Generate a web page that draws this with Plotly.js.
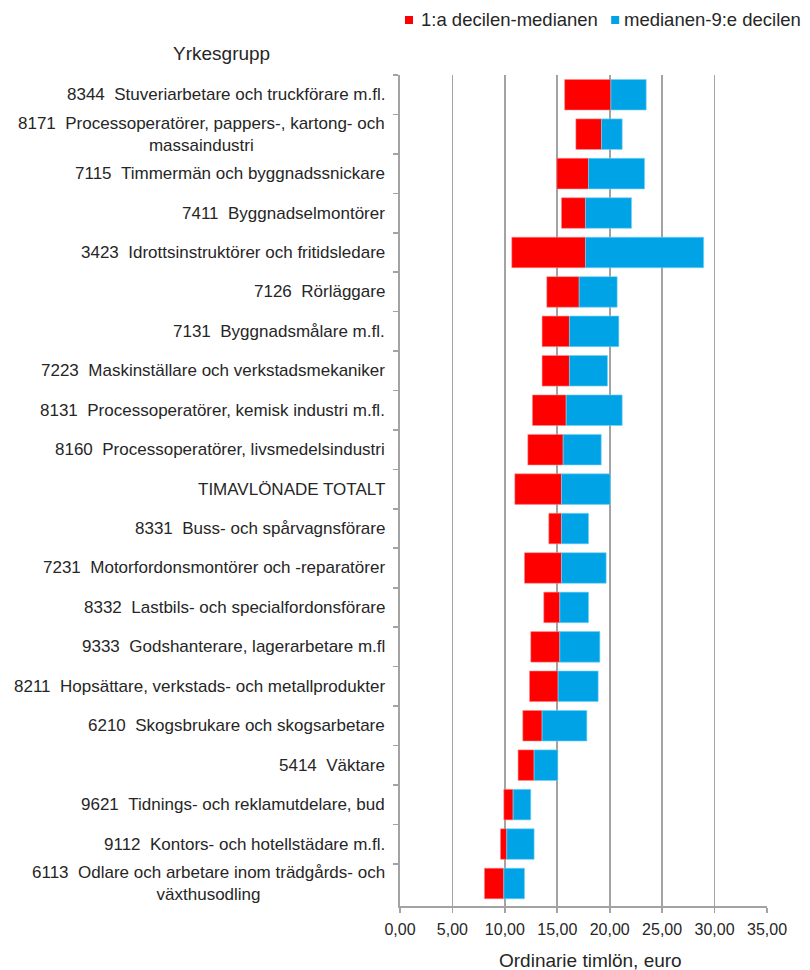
<!DOCTYPE html>
<html>
<head>
<meta charset="utf-8">
<script src="https://cdn.plot.ly/plotly-3.0.1.min.js"></script>
<style>
html,body{margin:0;padding:0;background:#fff;}
#chart{width:810px;height:970px;}
</style>
</head>
<body>
<div id="chart"></div>
<script>
// ---- data ----
var codes = ['8344','8171','7115','7411','3423','7126','7131','7223','8131','8160','',
             '8331','7231','8332','9333','8211','6210','5414','9621','9112','6113'];
var names = [
  'Stuveriarbetare och truckförare m.fl.',
  'Processoperatörer, pappers-, kartong- och<br>massaindustri',
  'Timmermän och byggnadssnickare',
  'Byggnadselmontörer',
  'Idrottsinstruktörer och fritidsledare',
  'Rörläggare',
  'Byggnadsmålare m.fl.',
  'Maskinställare och verkstadsmekaniker',
  'Processoperatörer, kemisk industri m.fl.',
  'Processoperatörer, livsmedelsindustri',
  'TIMAVLÖNADE TOTALT',
  'Buss- och spårvagnsförare',
  'Motorfordonsmontörer och -reparatörer',
  'Lastbils- och specialfordonsförare',
  'Godshanterare, lagerarbetare m.fl',
  'Hopsättare, verkstads- och metallprodukter',
  'Skogsbrukare och skogsarbetare',
  'Väktare',
  'Tidnings- och reklamutdelare, bud',
  'Kontors- och hotellstädare m.fl.',
  'Odlare och arbetare inom trädgårds- och<br>växthusodling'
];
var decile1 = [15.70,16.77,14.96,15.40,10.66,14.00,13.55,13.55,12.63,12.19,10.95,
               14.19,11.87,13.71,12.47,12.35,11.71,11.26,9.90,9.58,8.05];
var median  = [20.11,19.22,17.98,17.69,17.69,17.09,16.16,16.16,15.85,15.56,15.40,
               15.40,15.40,15.24,15.24,15.08,13.55,12.79,10.79,10.18,9.90];
var decile9 = [23.48,21.19,23.32,22.08,28.96,20.71,20.87,19.79,21.19,19.19,20.05,
               17.98,19.66,17.98,19.06,18.90,17.82,15.05,12.47,12.79,11.87];
var seriesNames = ['1:a decilen-medianen', 'medianen-9:e decilen'];
var axisTitle = 'Ordinarie timlön, euro';
var groupTitle = 'Yrkesgrupp';

// ---- build ----
var labels = codes.map(function(c, i){
  return c ? c + '\u00a0\u00a0' + names[i] : names[i];
});
var cats = labels.map(function(l){ return l.replace('<br>', ' '); });

var redCol = '#FF0000', blueCol = '#00A3E6';

var traceLow = {
  type: 'bar', orientation: 'h', name: seriesNames[0],
  y: cats,
  base: decile1,
  x: median.map(function(m, i){ return m - decile1[i]; }),
  marker: {color: redCol, line: {color: 'rgba(255,140,140,0.7)', width: 0.8}},
  hoverinfo: 'skip', showlegend: false
};
var traceHigh = {
  type: 'bar', orientation: 'h', name: seriesNames[1],
  y: cats,
  base: median,
  x: decile9.map(function(d, i){ return d - median[i]; }),
  marker: {color: blueCol, line: {color: 'rgba(120,210,245,0.8)', width: 0.8}},
  hoverinfo: 'skip', showlegend: false
};

// plot area in pixels
var L = 400, R = 766.7, T = 75, B = 906;
var W = 810, H = 970;
function px2x(px){ return (px - L) / (R - L); }
function px2y(py){ return (B - py) / (B - T); }

var font = 'Liberation Sans, Arial, sans-serif';
var txtCol = '#262626';
var gridCol = '#A3A3A3';

var annotations = labels.map(function(lbl, i){
  return {
    xref: 'x', yref: 'y', x: 0, y: cats[i],
    xanchor: 'right', yanchor: 'middle', xshift: -13,
    text: lbl, showarrow: false, align: 'center',
    font: {family: font, size: 17, color: txtCol}
  };
});
annotations.push({
  xref: 'paper', yref: 'paper', x: px2x(222), y: px2y(53),
  xanchor: 'center', yanchor: 'middle', text: groupTitle, showarrow: false,
  font: {family: font, size: 19, color: txtCol}
});
// axis title placed under the axis, centred like the reference
annotations.push({
  xref: 'paper', yref: 'paper', x: px2x(590), y: px2y(960),
  xanchor: 'center', yanchor: 'middle', text: axisTitle, showarrow: false,
  font: {family: font, size: 19, color: txtCol}
});
// manual legend
var legX = [405, 611], legTextX = [419, 622];
var shapes = [];
[redCol, blueCol].forEach(function(col, k){
  shapes.push({
    type: 'rect', xref: 'paper', yref: 'paper',
    x0: px2x(legX[k]), x1: px2x(legX[k] + 8),
    y0: px2y(24), y1: px2y(16),
    fillcolor: col, line: {width: 0}
  });
  annotations.push({
    xref: 'paper', yref: 'paper', x: px2x(legTextX[k]), y: px2y(19.5),
    xanchor: 'left', yanchor: 'middle', text: seriesNames[k], showarrow: false,
    font: {family: font, size: 18.5, color: txtCol}
  });
});

var layout = {
  width: W, height: H,
  margin: {l: L, r: W - R, t: T, b: H - B, pad: 0},
  paper_bgcolor: '#ffffff', plot_bgcolor: '#ffffff',
  barmode: 'overlay', bargap: 0.225,
  separators: ', ',
  showlegend: false,
  font: {family: font, color: txtCol},
  xaxis: {
    range: [0, 35], dtick: 5, tick0: 0, tickformat: '.2f',
    showgrid: true, gridcolor: gridCol, gridwidth: 1.6,
    zeroline: false,
    showline: true, linecolor: gridCol, linewidth: 1.6,
    ticks: 'outside', ticklen: 5, tickcolor: gridCol, tickwidth: 1.6,
    ticklabelstandoff: 3,
    tickfont: {family: font, size: 16, color: txtCol},
    fixedrange: true, automargin: false
  },
  yaxis: {
    type: 'category', autorange: 'reversed',
    showticklabels: false,
    showgrid: false, zeroline: false,
    showline: true, linecolor: gridCol, linewidth: 1.6,
    ticks: 'outside', tickson: 'boundaries', ticklen: 5, tickcolor: gridCol, tickwidth: 1.6,
    fixedrange: true, automargin: false
  },
  annotations: annotations,
  shapes: shapes
};

Plotly.newPlot('chart', [traceLow, traceHigh], layout, {displayModeBar: false, staticPlot: true});
</script>
</body>
</html>
